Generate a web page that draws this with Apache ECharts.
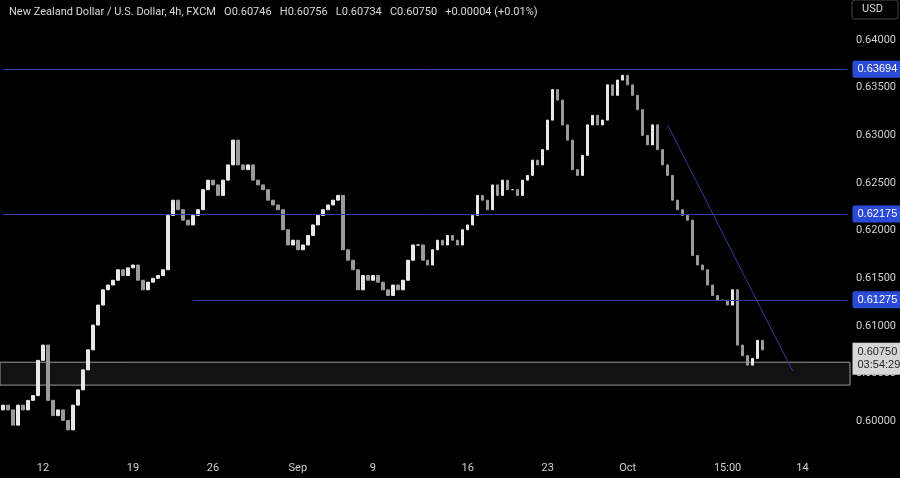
<!DOCTYPE html>
<html>
<head>
<meta charset="utf-8">
<script src="https://cdn.jsdelivr.net/npm/echarts@6/dist/echarts.min.js"></script>
<style>
  html, body { margin: 0; padding: 0; background: #000; }
  #main { width: 900px; height: 478px; }
</style>
</head>
<body>
<div id="main"></div>
<script>
// closes of the 4h candles (open = previous close)
const closes = [
  0.6017,0.6012,0.5996,0.6017,0.6012,0.6022,0.6027,0.6064,0.6080,0.6022,
  0.6006,0.6012,0.6001,0.5991,0.6017,0.6033,0.6054,0.6075,0.6101,0.6122,
  0.6138,0.6143,0.6148,0.6159,0.6153,0.6161,0.6164,0.6148,0.6138,0.6146,
  0.6150,0.6153,0.6159,0.6216,0.6232,0.6222,0.6211,0.6206,0.6216,0.6222,
  0.6243,0.6253,0.6248,0.6237,0.6253,0.6269,0.6295,0.6269,0.6264,0.6269,
  0.6253,0.6248,0.6243,0.6232,0.6227,0.6222,0.6201,0.6185,0.6190,0.6180,
  0.6185,0.6195,0.6206,0.6216,0.6222,0.6227,0.6232,0.6237,0.6180,0.6169,
  0.6159,0.6138,0.6153,0.6148,0.6153,0.6146,0.6138,0.6132,0.6143,0.6138,
  0.6148,0.6169,0.6185,0.6185,0.6169,0.6164,0.6180,0.6190,0.6185,0.6195,
  0.6190,0.6185,0.6201,0.6206,0.6216,0.6237,0.6232,0.6222,0.6248,0.6237,
  0.6253,0.6243,0.6243,0.6237,0.6253,0.6258,0.6274,0.6269,0.6285,0.6316,
  0.6348,0.6337,0.6311,0.6295,0.6264,0.6258,0.6279,0.6311,0.6321,0.6311,
  0.6316,0.6353,0.6342,0.6358,0.6363,0.6353,0.6342,0.6327,0.6300,0.6290,
  0.6311,0.6285,0.6269,0.6258,0.6232,0.6222,0.6216,0.6211,0.6174,0.6164,
  0.6159,0.6143,0.6132,0.6127,0.6127,0.6122,0.6138,0.6080,0.6069,0.6059,
  0.6066,0.6085,0.6075
];
const firstOpen = 0.6012;
const slotCount = 170;

// x tick labels at slot indices
const tickIdx = [8, 26, 42, 59, 74, 93, 109, 125, 145, 160];
const tickText = ['12', '19', '26', 'Sep', '9', '16', '23', 'Oct', '15:00', '14'];

// levels
const levels = [0.63694, 0.62175];
const level3 = 0.61275;
const zoneTop = 0.6062, zoneBottom = 0.6038;
const trendStart = [133, 0.6311], trendEnd = [158, 0.6053];
const lastPrice = 0.60750;

const cats = [];
for (let i = 0; i < slotCount; i++) {
  const k = tickIdx.indexOf(i);
  cats.push(k >= 0 ? tickText[k] : '');
}
const candles = closes.map((c, i) => {
  const o = i === 0 ? firstOpen : closes[i - 1];
  return [o, c, Math.min(o, c), Math.max(o, c)];
});

const blue = '#2f3f9a';
const last = slotCount - 1;
const tag = (v) => ({
  show: true, position: 'end', distance: 5, formatter: v.toFixed(5),
  backgroundColor: '#2a4bd7', color: '#fff', fontSize: 11, padding: [3, 5],
  borderRadius: 2
});
const hline = (v, from) => [{ coord: [from, v] }, { coord: [last, v], label: tag(v) }];

const chart = echarts.init(document.getElementById('main'));
chart.setOption({
  backgroundColor: '#000',
  animation: false,
  title: {
    text: 'New Zealand Dollar / U.S. Dollar, 4h, FXCM   O0.60746   H0.60756   L0.60734   C0.60750   +0.00004 (+0.01%)',
    left: 4, top: 2,
    textStyle: { color: '#d8d8d8', fontSize: 11, fontWeight: 'normal', fontFamily: 'Roboto' }
  },
  grid: { left: 0, right: 50, top: 0, bottom: 9 },
  xAxis: {
    type: 'category', data: cats, boundaryGap: true,
    axisLine: { show: false }, axisTick: { show: false }, splitLine: { show: false },
    axisLabel: {
      interval: 0, margin: -6, color: '#cfcfcf', fontSize: 11, fontFamily: 'Roboto',
      formatter: (v) => v
    }
  },
  yAxis: {
    type: 'value', position: 'right', min: 0.595, max: 0.6442, interval: 0.005,
    axisLine: { show: false }, axisTick: { show: false }, splitLine: { show: false },
    axisLabel: {
      color: '#cfcfcf', fontSize: 11, fontFamily: 'Roboto', margin: 6,
      formatter: (v) => (v < 0.5975 || v > 0.6421) ? '' : v.toFixed(5)
    }
  },
  graphic: [
    { type: 'rect', shape: { x: 852, y: 0, width: 46, height: 19, r: 3 },
      style: { fill: '#000', stroke: '#444' } },
    { type: 'text', x: 862, y: 4, style: { text: 'USD', fill: '#d8d8d8', font: '11px Roboto' } }
  ],
  series: [{
    type: 'candlestick',
    data: candles,
    barWidth: 3,
    itemStyle: { color: '#e8e8e8', color0: '#9a9a9a', borderColor: '#e8e8e8', borderColor0: '#9a9a9a' },
    markArea: {
      silent: true,
      itemStyle: { color: '#121212', borderColor: '#9a9a9a', borderWidth: 1 },
      data: [[{ yAxis: zoneTop, x: 0 }, { yAxis: zoneBottom, x: 850 }]]
    },
    markLine: {
      silent: true, symbol: 'none',
      lineStyle: { color: blue, width: 1, type: 'solid' },
      data: [
        hline(levels[0], 0),
        hline(levels[1], 0),
        hline(level3, 38),
        [{ coord: trendStart, label: { show: false } }, { coord: trendEnd }]
      ]
    },
    markPoint: {
      silent: true, symbol: 'rect', symbolSize: 0,
      data: [{
        coord: [last, lastPrice],
        label: { show: true, position: 'right', distance: 5, offset: [0, 9],
          formatter: '0.60750\n03:54:29', backgroundColor: '#d6d6d6', color: '#222',
          fontSize: 11, lineHeight: 13, padding: [3, 5] }
      }]
    }
  }]
});
</script>
</body>
</html>
